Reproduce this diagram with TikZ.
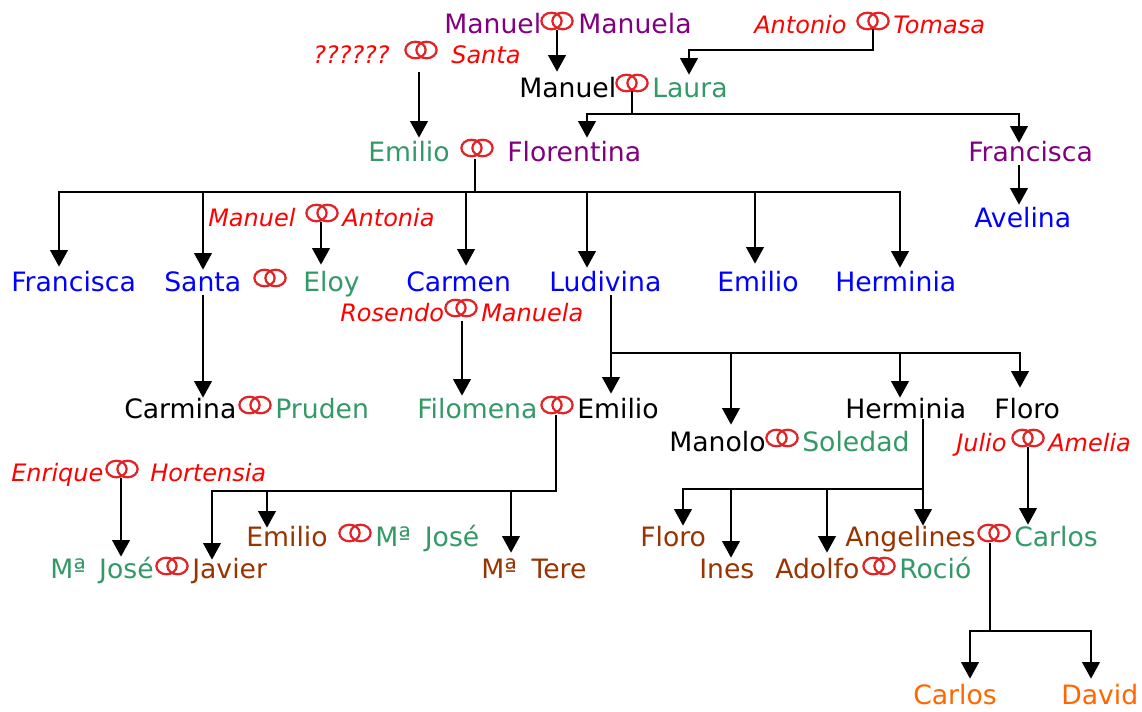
\documentclass[tikz,border=0pt]{standalone}
\usepackage{fontspec}
\setmainfont{DejaVu Sans}
\usetikzlibrary{arrows.meta}
\definecolor{cpurple}{HTML}{800080}
\definecolor{cgreen}{HTML}{339966}
\definecolor{cblue}{HTML}{0000FF}
\definecolor{cbrown}{HTML}{993300}
\definecolor{corange}{HTML}{FF6600}
\definecolor{cring}{HTML}{E02428}
\tikzset{
  x=0.75pt,y=-0.75pt,
  person/.style={anchor=base west,inner sep=0pt,font=\fontsize{20pt}{24pt}\selectfont},
  purple name/.style={person,text=cpurple},
  green name/.style={person,text=cgreen},
  blue name/.style={person,text=cblue},
  brown name/.style={person,text=cbrown},
  orange name/.style={person,text=corange},
  black name/.style={person,text=black},
  red name/.style={person,text=red,font=\fontsize{18pt}{22pt}\selectfont\itshape},
  ringnode/.style={inner sep=0pt,minimum width=24pt,minimum height=13.5pt,shape=rectangle},
  ringline/.style={draw=cring,line width=1.7pt},
  arrowline/.style={draw=black,line width=2.2pt,-{Triangle[length=12.5pt,width=13pt]}},
  barline/.style={draw=black,line width=1.8pt,line cap=rect},
}
% name, left x, baseline y, arrow-tip height above baseline, style, text
\newcommand\pers[6]{\node[#5,text height=#4*0.75pt,text depth=2pt] (#1) at (#2,#3) {#6};}
\newcommand\ringsym[3]{%
  \node[ringnode] (#1) at (#2,#3) {};
  \draw[ringline] (#2-5.5,#3) ellipse [x radius=7.6pt,y radius=6.2pt];
  \draw[ringline] (#2+5.5,#3) ellipse [x radius=7.6pt,y radius=6.2pt];}
\begin{document}
\begin{tikzpicture}
\useasboundingbox (0,0) rectangle (1142,711);
% people
\pers{gpMan}{444}{33}{24}{purple name}{Manuel}
\pers{gpMana}{578}{33}{24}{purple name}{Manuela}
\ringsym{r1}{557}{21}
\pers{gpAnt}{754}{33}{20}{red name}{Antonio}
\pers{gpTom}{893}{33}{20}{red name}{Tomasa}
\ringsym{r2}{873}{21}
\pers{gpQ}{313}{63}{20}{red name}{??????}
\pers{gpSan}{451}{63}{20}{red name}{Santa}
\ringsym{r3}{421}{50}
\pers{pMan}{519}{97}{25}{black name}{Manuel}
\pers{pLau}{652}{97}{22}{green name}{Laura}
\ringsym{r4}{632}{83}
\pers{pEmi}{368}{161}{23}{green name}{Emilio}
\pers{pFlo}{507}{161}{23}{purple name}{Florentina}
\ringsym{r5}{477}{148}
\pers{pFra}{968}{161}{18}{purple name}{Francisca}
\pers{pAve}{974}{227}{22}{blue name}{Avelina}
\pers{cFra}{11}{291}{24}{blue name}{Francisca}
\pers{cSan}{164}{291}{21}{blue name}{Santa}
\ringsym{r6}{270}{278}
\pers{cElo}{303}{291}{26}{green name}{Eloy}
\pers{cCar}{406}{291}{25}{blue name}{Carmen}
\pers{cLud}{549}{291}{23}{blue name}{Ludivina}
\pers{cEmi}{717}{291}{27}{blue name}{Emilio}
\pers{cHer}{835}{291}{23}{blue name}{Herminia}
\pers{iMan}{208}{226}{20}{red name}{Manuel}
\pers{iAnt}{342}{226}{20}{red name}{Antonia}
\ringsym{r7}{322}{213}
\pers{iRos}{340}{321}{20}{red name}{Rosendo}
\pers{iMana}{481}{321}{20}{red name}{Manuela}
\ringsym{r8}{461}{308}
\pers{dCar}{124}{418}{20}{black name}{Carmina}
\pers{dPru}{275}{418}{20}{green name}{Pruden}
\ringsym{r9}{255}{405}
\pers{dFil}{417}{418}{22}{green name}{Filomena}
\pers{dEmi}{577}{418}{24}{black name}{Emilio}
\ringsym{r10}{557}{405}
\pers{dMan}{669}{451}{26}{black name}{Manolo}
\pers{dSol}{802}{451}{20}{green name}{Soledad}
\ringsym{r11}{782}{438}
\pers{dHer}{845}{418}{20}{black name}{Herminia}
\pers{dFlo}{994}{418}{30}{black name}{Floro}
\pers{iJul}{956}{451}{20}{red name}{Julio}
\pers{iAme}{1048}{451}{20}{red name}{Amelia}
\ringsym{r12}{1028}{438}
\pers{iEnr}{11}{481}{20}{red name}{Enrique}
\pers{iHor}{150}{481}{20}{red name}{Hortensia}
\ringsym{r13}{122}{469}
\pers{eEmi}{246}{546}{18}{brown name}{Emilio}
\pers{eJos}{375}{546}{20}{green name}{Mª\kern10.5pt José}
\ringsym{r14}{355}{533}
\pers{eMJ}{50}{578}{21}{green name}{Mª\kern10pt José}
\pers{eJav}{192}{578}{18}{brown name}{Javier}
\ringsym{r15}{172}{566}
\pers{eTer}{481}{578}{25}{brown name}{Mª\kern11pt Tere}
\pers{eFlo}{640}{546}{20}{brown name}{Floro}
\pers{eIne}{699}{578}{20}{brown name}{Ines}
\pers{eAdo}{775}{578}{25}{brown name}{Adolfo}
\pers{eRoc}{899}{578}{20}{green name}{Roció}
\ringsym{r16}{879}{566}
\pers{eAng}{845}{546}{20}{brown name}{Angelines}
\pers{eCar}{1014}{546}{21}{green name}{Carlos}
\ringsym{r17}{994}{533}
\pers{fCar}{913}{704}{25}{orange name}{Carlos}
\pers{fDav}{1061}{704}{25}{orange name}{David}
% free points of the connectors
\coordinate (s1) at (557,30);
\coordinate (s2) at (873,30);
\coordinate (k2) at (873,50);
\coordinate (a2) at (689,50);
\coordinate (s3) at (419,72);
\coordinate (s4) at (632,92);
\coordinate (k4) at (632,114);
\coordinate (a4l) at (587,114);
\coordinate (a4r) at (1019,114);
\coordinate (s5) at (1019,165);
\coordinate (s6) at (475,160);
\coordinate (k6) at (475,192);
\coordinate (a61) at (59,192);
\coordinate (a62) at (203,192);
\coordinate (a63) at (466,192);
\coordinate (a64) at (587,192);
\coordinate (a65) at (755,192);
\coordinate (a66) at (900,192);
\coordinate (s7) at (321,222);
\coordinate (s8) at (203,295);
\coordinate (s9) at (462,321);
\coordinate (s10) at (611,296);
\coordinate (k10) at (611,353);
\coordinate (a102) at (731,353);
\coordinate (a103) at (900,353);
\coordinate (a104) at (1020,353);
\coordinate (s11) at (556,416);
\coordinate (k11) at (556,491);
\coordinate (a111) at (212,491);
\coordinate (a112) at (267,491);
\coordinate (a113) at (511,491);
\coordinate (s12) at (121,478);
\coordinate (s13) at (1028,447);
\coordinate (s14) at (923,420);
\coordinate (k14) at (923,489);
\coordinate (a141) at (683,489);
\coordinate (a142) at (731,489);
\coordinate (a143) at (827,489);
\coordinate (s15) at (990,544);
\coordinate (k15) at (990,631);
\coordinate (a151) at (970,631);
\coordinate (a152) at (1091,631);
% connectors
\draw[arrowline] (s1) -- (s1 |- pMan.north);
\draw[barline] (s2) -- (k2) -- (a2);
\draw[arrowline] (a2) -- (a2 |- pLau.north);
\draw[arrowline] (s3) -- (s3 |- pEmi.north);
\draw[barline] (s4) -- (k4);
\draw[barline] (a4l) -- (a4r);
\draw[arrowline] (a4l) -- (a4l |- pFlo.north);
\draw[arrowline] (a4r) -- (a4r |- pFra.north);
\draw[arrowline] (s5) -- (s5 |- pAve.north);
\draw[barline] (s6) -- (k6);
\draw[barline] (a61) -- (a66);
\draw[arrowline] (a61) -- (a61 |- cFra.north);
\draw[arrowline] (a62) -- (a62 |- cSan.north);
\draw[arrowline] (a63) -- (a63 |- cCar.north);
\draw[arrowline] (a64) -- (a64 |- cLud.north);
\draw[arrowline] (a65) -- (a65 |- cEmi.north);
\draw[arrowline] (a66) -- (a66 |- cHer.north);
\draw[arrowline] (s7) -- (s7 |- cElo.north);
\draw[arrowline] (s8) -- (s8 |- dCar.north);
\draw[arrowline] (s9) -- (s9 |- dFil.north);
\draw[barline] (s10) -- (k10) -- (a104);
\draw[arrowline] (k10) -- (k10 |- dEmi.north);
\draw[arrowline] (a102) -- (a102 |- dMan.north);
\draw[arrowline] (a103) -- (a103 |- dHer.north);
\draw[arrowline] (a104) -- (a104 |- dFlo.north);
\draw[barline] (s11) -- (k11) -- (a111);
\draw[arrowline] (a111) -- (a111 |- eJav.north);
\draw[arrowline] (a112) -- (a112 |- eEmi.north);
\draw[arrowline] (a113) -- (a113 |- eTer.north);
\draw[arrowline] (s12) -- (s12 |- eMJ.north);
\draw[arrowline] (s13) -- (s13 |- eCar.north);
\draw[barline] (s14) -- (k14);
\draw[barline] (a141) -- (k14);
\draw[arrowline] (a141) -- (a141 |- eFlo.north);
\draw[arrowline] (a142) -- (a142 |- eIne.north);
\draw[arrowline] (a143) -- (a143 |- eAdo.north);
\draw[arrowline] (k14) -- (k14 |- eAng.north);
\draw[barline] (s15) -- (k15);
\draw[barline] (a151) -- (a152);
\draw[arrowline] (a151) -- (a151 |- fCar.north);
\draw[arrowline] (a152) -- (a152 |- fDav.north);
\end{tikzpicture}
\end{document}
